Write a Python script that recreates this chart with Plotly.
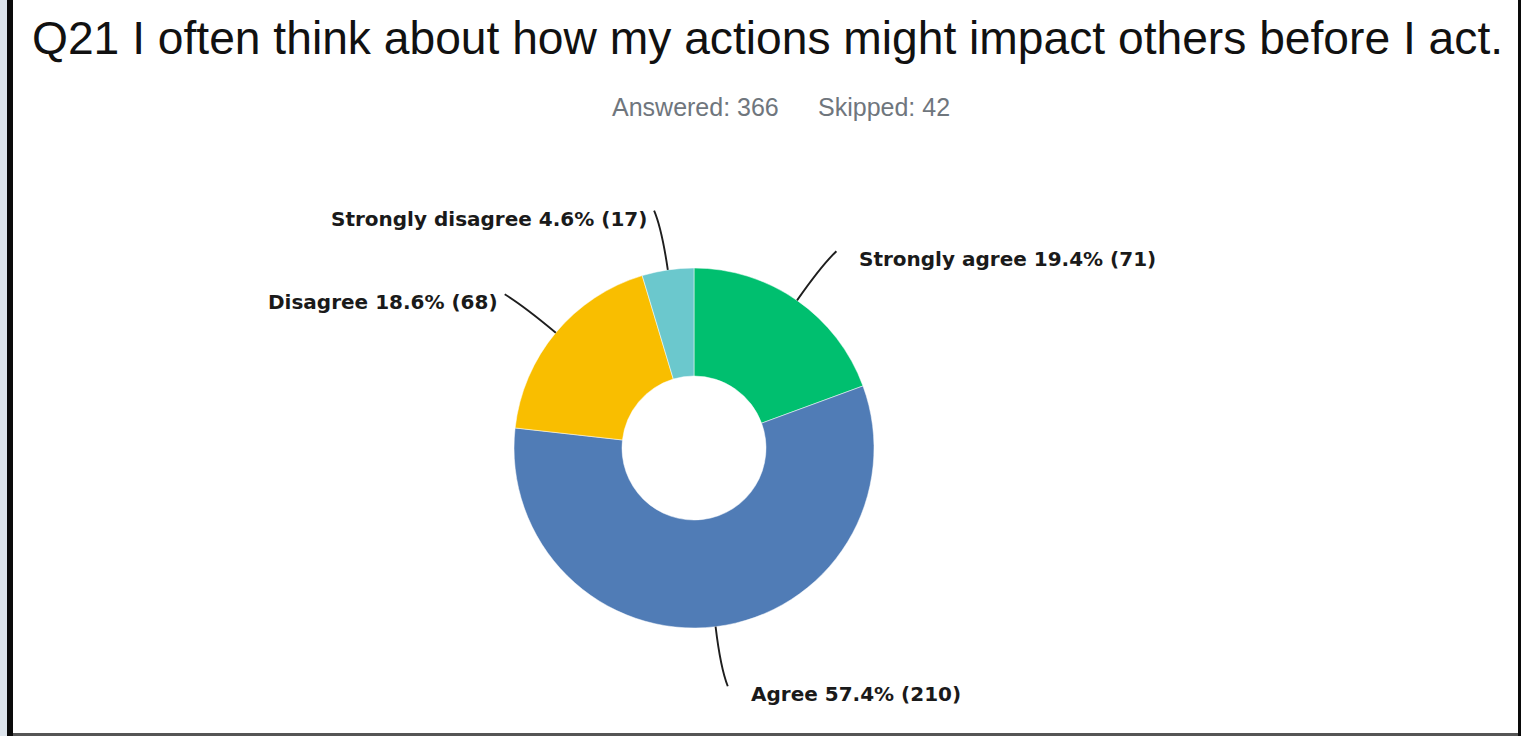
import numpy as np
import plotly.graph_objects as go

W, H = 1521, 736

title = "Q21 I often think about how my actions might impact others before I act."
answered = 366
skipped = 42
categories = ["Strongly agree", "Agree", "Disagree", "Strongly disagree"]
counts = [71, 210, 68, 17]
percents = [19.4, 57.4, 18.6, 4.6]
colors = ["#00BF6F", "#507CB6", "#F9BE00", "#6BC8CD"]

# pie geometry (pixels)
cx, cy, R = 694, 448, 180
hole = 0.4

def px(x):
    return x / W

def py(y):
    return 1 - y / H

fig = go.Figure()
fig.add_trace(go.Pie(
    labels=categories, values=counts, sort=False, direction="clockwise",
    rotation=0, hole=hole, marker=dict(colors=colors, line=dict(color="white", width=0.5)),
    textinfo="none", hoverinfo="label+value+percent", showlegend=False,
    domain=dict(x=[px(cx - R), px(cx + R)], y=[py(cy + R), py(cy - R)]),
))

shapes = []
annotations = []
vals = np.array(counts, dtype=float)
cum = np.cumsum(vals) - vals / 2
mid = cum / vals.sum() * 2 * np.pi  # clockwise from 12 o'clock
for cat, cnt, pct, a in zip(categories, counts, percents, mid):
    s, c = np.sin(a), np.cos(a)
    side = 1 if s >= 0 else -1
    x0, y0 = cx + R * s, cy - R * c
    xc, yc = cx + (R + 42) * s, cy - (R + 42) * c
    x1, y1 = cx + (R + 60) * s + side * 5, cy - (R + 60) * c
    path = "M {:.5f},{:.5f} Q {:.5f},{:.5f} {:.5f},{:.5f}".format(
        px(x0), py(y0), px(xc), py(yc), px(x1), py(y1))
    shapes.append(dict(type="path", xref="paper", yref="paper", path=path,
                       line=dict(color="#1e1e1e", width=1.9)))
    gap = 21 if side > 0 else 5
    annotations.append(dict(
        x=px(x1 + side * gap), y=py(y1 + 8), xref="paper", yref="paper",
        text="{} {:.1f}% ({})".format(cat, pct, cnt), showarrow=False,
        xanchor="left" if side > 0 else "right", yanchor="middle",
        font=dict(family="DejaVu Sans", size=20, color="#1a1a1a", weight="bold")))

annotations.append(dict(x=px(30), y=py(38), xref="paper", yref="paper", text=title,
                        showarrow=False, xanchor="left", yanchor="middle",
                        font=dict(family="Liberation Sans", size=46.2, color="#111111")))
annotations.append(dict(x=px(610), y=py(107), xref="paper", yref="paper",
                        text="Answered: {}".format(answered), showarrow=False,
                        xanchor="left", yanchor="middle",
                        font=dict(family="Liberation Sans", size=25, color="#6f767d")))
annotations.append(dict(x=px(816), y=py(107), xref="paper", yref="paper",
                        text="Skipped: {}".format(skipped), showarrow=False,
                        xanchor="left", yanchor="middle",
                        font=dict(family="Liberation Sans", size=25, color="#6f767d")))

# frame
shapes += [
    dict(type="rect", xref="paper", yref="paper", x0=0, x1=px(7), y0=0, y1=1,
         fillcolor="#dde4ec", line=dict(width=0), layer="below"),
    dict(type="rect", xref="paper", yref="paper", x0=px(7), x1=px(13), y0=0, y1=1,
         fillcolor="#0a0a0a", line=dict(width=0)),
    dict(type="rect", xref="paper", yref="paper", x0=px(1518), x1=1, y0=0, y1=1,
         fillcolor="#0a0a0a", line=dict(width=0)),
    dict(type="rect", xref="paper", yref="paper", x0=px(13), x1=px(1518), y0=0, y1=py(733),
         fillcolor="#555555", line=dict(width=0)),
]

fig.update_layout(
    width=W, height=H, margin=dict(l=0, r=0, t=0, b=0),
    paper_bgcolor="white", plot_bgcolor="white",
    shapes=shapes, annotations=annotations,
)
fig.write_html("out.html", config={"displayModeBar": False},
               post_script="document.body.style.margin='0';document.body.style.overflow='hidden';")
